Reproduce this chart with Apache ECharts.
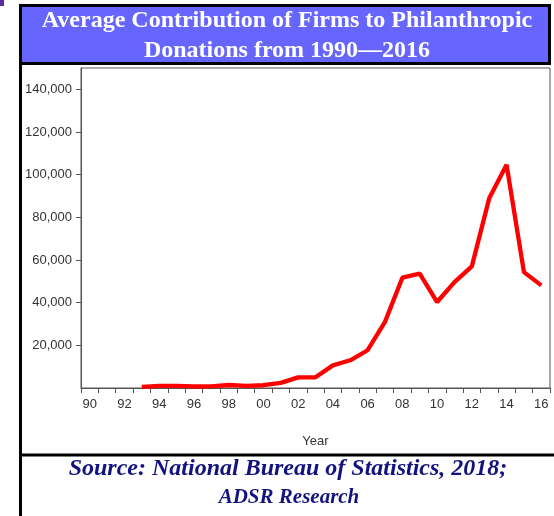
<!DOCTYPE html>
<html>
<head>
<meta charset="utf-8">
<script src="https://cdn.jsdelivr.net/npm/echarts@6/dist/echarts.min.js"></script>
<style>
html,body{margin:0;padding:0;background:#fff;}
#chart{width:554px;height:516px;}
</style>
</head>
<body>
<div id="chart"></div>
<script>
// Data
const years = ['90','91','92','93','94','95','96','97','98','99','00','01','02','03','04','05','06','07','08','09','10','11','12','13','14','15','16'];
const contributions = [null,null,null,500,1000,1000,700,800,1400,1000,1300,2400,5000,5000,10600,13000,17700,31000,51700,53600,40300,49600,57000,88900,104600,54300,48100];
const yTickValues = [20000,40000,60000,80000,100000,120000,140000];
const titleLines = ['Average Contribution of Firms to Philanthropic','Donations from 1990\u20142016'];
const sourceLines = ['Source: National Bureau of Statistics, 2018;','ADSR Research'];

const chart = echarts.init(document.getElementById('chart'), null, {renderer:'canvas'});
const axisColor = '#555';
const fmt = v => String(v).replace(/\B(?=(\d{3})+(?!\d))/g, ',');

chart.setOption({
  animation:false,
  backgroundColor:'#fff',
  grid:{left:81,right:4,top:68,bottom:128,show:true,borderColor:axisColor,borderWidth:1,backgroundColor:'transparent'},
  xAxis:{
    type:'category',
    data:years,
    boundaryGap:true,
    name:'Year',
    nameLocation:'middle',
    nameGap:47,
    nameTextStyle:{fontFamily:'Liberation Sans, Arial, sans-serif',fontSize:13,color:'#333'},
    axisLine:{show:true,lineStyle:{color:axisColor,width:1}},
    axisTick:{show:true,interval:0,length:5,lineStyle:{color:axisColor}},
    axisLabel:{interval:1,margin:10,fontFamily:'Liberation Sans, Arial, sans-serif',fontSize:13,color:'#333'},
    splitLine:{show:false}
  },
  yAxis:{
    type:'value',
    min:0,max:150000,interval:20000,
    axisLine:{show:true,lineStyle:{color:axisColor,width:1}},
    axisTick:{show:true,length:5,lineStyle:{color:axisColor},customValues:yTickValues},
    axisLabel:{margin:9,fontFamily:'Liberation Sans, Arial, sans-serif',fontSize:13,color:'#333',customValues:yTickValues,formatter:v=>fmt(v)},
    splitLine:{show:false}
  },
  series:[{
    type:'line',
    data:contributions,
    symbol:'none',
    connectNulls:false,
    lineStyle:{color:'#ff0000',width:4.3},
    z:3
  }],
  graphic:[
    {type:'rect',shape:{x:0,y:0,width:4,height:6},style:{fill:'#5b2c9e'},silent:true},
    {type:'rect',shape:{x:20.5,y:5.5,width:529,height:58},style:{fill:'#6666ff',stroke:'#000',lineWidth:3},silent:true},
    {type:'line',shape:{x1:20.5,y1:63,x2:20.5,y2:516},style:{stroke:'#000',lineWidth:3},silent:true},
    {type:'line',shape:{x1:20,y1:455,x2:554,y2:455},style:{stroke:'#000',lineWidth:3},silent:true},
    {type:'text',x:287,y:21,style:{text:titleLines[0],fill:'#fff',font:'bold 24px "Liberation Serif", "Times New Roman", serif',textAlign:'center',textVerticalAlign:'middle'},silent:true},
    {type:'text',x:287,y:51,style:{text:titleLines[1],fill:'#fff',font:'bold 24px "Liberation Serif", "Times New Roman", serif',textAlign:'center',textVerticalAlign:'middle'},silent:true},
    {type:'text',x:288,y:469,style:{text:sourceLines[0],fill:'#13137f',font:'italic bold 24px "Liberation Serif", "Times New Roman", serif',textAlign:'center',textVerticalAlign:'middle'},silent:true},
    {type:'text',x:289,y:498,style:{text:sourceLines[1],fill:'#13137f',font:'italic bold 21px "Liberation Serif", "Times New Roman", serif',textAlign:'center',textVerticalAlign:'middle'},silent:true}
  ]
});
</script>
</body>
</html>
